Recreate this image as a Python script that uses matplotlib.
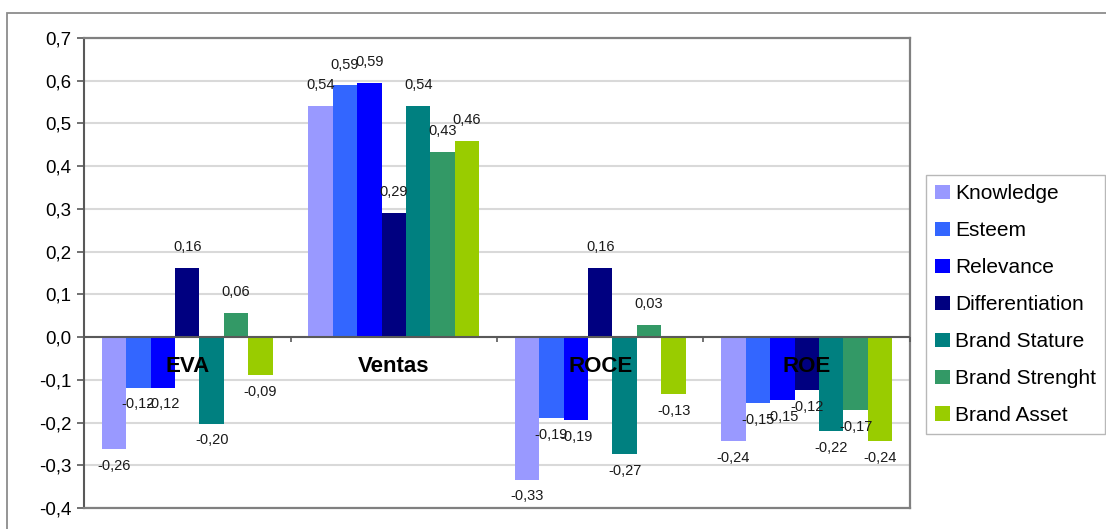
import matplotlib
matplotlib.use("Agg")
import matplotlib.pyplot as plt
from matplotlib.patches import Rectangle
import numpy as np

plt.rcParams["font.family"] = ["Liberation Sans", "DejaVu Sans"]

categories = ["EVA", "Ventas", "ROCE", "ROE"]
series_names = ["Knowledge", "Esteem", "Relevance", "Differentiation",
                "Brand Stature", "Brand Strenght", "Brand Asset"]
knowledge = [-0.262, 0.541, -0.334, -0.244]
esteem = [-0.118, 0.589, -0.189, -0.154]
relevance = [-0.118, 0.594, -0.194, -0.148]
differentiation = [0.162, 0.290, 0.162, -0.124]
brand_stature = [-0.203, 0.541, -0.274, -0.220]
brand_strenght = [0.057, 0.434, 0.028, -0.171]
brand_asset = [-0.089, 0.459, -0.133, -0.244]
y_ticks = [-0.4, -0.3, -0.2, -0.1, 0.0, 0.1, 0.2, 0.3, 0.4, 0.5, 0.6, 0.7]

series_values = [knowledge, esteem, relevance, differentiation,
                 brand_stature, brand_strenght, brand_asset]
colors = ["#9999ff", "#3366ff", "#0000ff", "#000080",
          "#008080", "#339966", "#99cc00"]

fig = plt.figure(figsize=(11.06, 5.29), dpi=100)
ax = fig.add_axes([84 / 1106, 21 / 529, 826 / 1106, 470 / 529])

# outer chart frame
fig.patches.append(Rectangle((7 / 1106, -0.05), 1.2, (529 - 13) / 529 + 0.05,
                             transform=fig.transFigure, fill=False,
                             edgecolor="#8c8c8c", linewidth=1.3))

n = len(series_names)
x = np.arange(len(categories))
width = 0.1184

def fmt(v):
    return f"{v:.2f}".replace(".", ",")

handles = []
for k, (name, vals, col) in enumerate(zip(series_names, series_values, colors)):
    pos = x + (k - (n - 1) / 2) * width
    bars = ax.bar(pos, vals, width, color=col, label=name, zorder=3)
    handles.append(bars)
    for b, v in zip(bars, vals):
        cx = b.get_x() + b.get_width() / 2
        off = 15 if v >= 0 else -12
        ax.annotate(fmt(v), (cx, v), xytext=(0, off), textcoords="offset points",
                    ha="center", va="center", fontsize=10.5, color="#1a1a1a",
                    zorder=5)

for i, c in enumerate(categories):
    ax.text(i, -0.07, c, ha="center", va="center", fontsize=16,
            fontweight="bold", color="black", zorder=6)

ax.set_xlim(-0.5, len(categories) - 0.5)
ax.set_ylim(-0.4, 0.7)
ax.set_yticks(y_ticks)
ax.set_yticklabels([fmt(t)[:-1] if t != 0 else "0,0" for t in y_ticks],
                   fontsize=13.5)
ax.yaxis.grid(True, color="#d9d9d9", linewidth=1.5, zorder=0)
ax.set_axisbelow(True)
ax.set_xticks([])
ax.tick_params(axis="y", direction="out", length=5, width=1.2, color="#595959",
               pad=4)

for side in ["top", "right", "bottom"]:
    ax.spines[side].set_color("#808080")
    ax.spines[side].set_linewidth(1.6)
ax.spines["left"].set_color("#595959")
ax.spines["left"].set_linewidth(1.5)

# category axis along zero with separators between groups
ax.axhline(0, color="#595959", linewidth=1.5, zorder=4)
bounds = np.arange(len(categories) + 1) - 0.5
ax.vlines(bounds[1:], -0.012, 0, color="#595959", linewidth=1.2, zorder=4,
          clip_on=False)

leg = fig.legend(handles=handles, loc="upper left",
                 bbox_to_anchor=(926 / 1106, (529 - 175) / 529),
                 bbox_transform=fig.transFigure, fontsize=15,
                 frameon=True, fancybox=False, edgecolor="#a6a6a6",
                 handlelength=0.68, handleheight=0.68, handletextpad=0.25,
                 labelspacing=0.86, borderpad=0.45, borderaxespad=0)
leg.get_frame().set_linewidth(1.0)

fig.savefig("out.png", dpi=100)
